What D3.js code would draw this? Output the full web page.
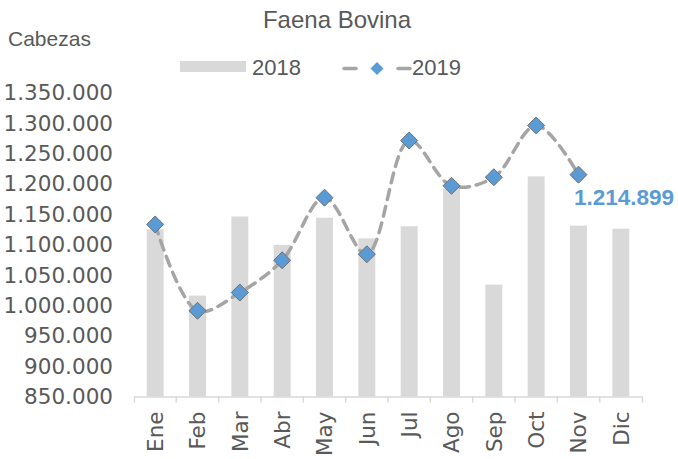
<!DOCTYPE html>
<html lang="es">
<head>
<meta charset="UTF-8">
<title>Faena Bovina</title>
<style>
body{margin:0;background:#fff}
svg{display:block}
</style>
</head>
<body>
<svg id="chart" width="678" height="459"></svg>
<script src="https://cdn.jsdelivr.net/npm/d3@7/dist/d3.min.js"></script>
<script>
var meses=['Ene','Feb','Mar','Abr','May','Jun','Jul','Ago','Sep','Oct','Nov','Dic']
var faena2018=[1125000,1016000,1146000,1099500,1144000,1110000,1130000,1192000,1034000,1212000,1131000,1126000]
var faena2019=[1133000,991000,1021000,1074000,1177000,1084000,1271000,1196500,1210700,1295700,1214899,null]
var yTicks=[850000,900000,950000,1000000,1050000,1100000,1150000,1200000,1250000,1300000,1350000]

var svg=d3.select('#chart')
var gris='#595959',barra='#d9d9d9',linea='#a5a5a5',azul='#5b9bd5'

var x=d3.scaleBand().domain(meses).range([134,642]).paddingInner(0.6).paddingOuter(0.3)
var y=d3.scaleLinear().domain([850000,1350000]).range([396.5,92.5])
var fmt=d3.formatLocale({decimal:',',thousands:'.',grouping:[3],currency:['$','']}).format(',d')

// barras 2018
svg.append('g').selectAll('rect').data(meses).join('rect')
  .attr('x',d=>x(d)).attr('width',x.bandwidth())
  .attr('y',(d,i)=>y(faena2018[i])).attr('height',(d,i)=>y(850000)-y(faena2018[i]))
  .attr('fill',barra)

// eje y (solo etiquetas)
svg.append('g').selectAll('text').data(yTicks).join('text')
  .attr('x',113).attr('y',d=>y(d)).attr('dy','0.36em')
  .attr('text-anchor','end').attr('fill',gris)
  .style('font-family','DejaVu Sans').style('font-size','21.5px')
  .text(d=>fmt(d))

// eje x
var xAxis=svg.append('g').attr('transform','translate(0,'+y(850000)+')')
  .call(d3.axisBottom(x).tickSizeInner(0).tickSizeOuter(6))
xAxis.select('.domain').attr('stroke',barra).attr('stroke-width',1.5)
xAxis.selectAll('.tick line').remove()
xAxis.selectAll('.tick text')
  .attr('transform','rotate(-90)').attr('x',-15).attr('y',0).attr('dy','0.36em')
  .attr('text-anchor','end').attr('fill',gris)
  .style('font-family','DejaVu Sans').style('font-size','21.5px')
var paso=x.step()
xAxis.append('g').selectAll('line').data(meses.slice(1)).join('line')
  .attr('x1',d=>x(d)-paso*0.3).attr('x2',d=>x(d)-paso*0.3)
  .attr('y1',0).attr('y2',6).attr('stroke',barra).attr('stroke-width',1.5)

// linea 2019
var pts=meses.map((m,i)=>({m:m,v:faena2019[i]})).filter(d=>d.v!=null)
var line=d3.line().x(d=>x(d.m)+x.bandwidth()/2).y(d=>y(d.v)).curve(d3.curveCatmullRom.alpha(0.5))
svg.append('path').datum(pts).attr('d',line)
  .attr('fill','none').attr('stroke',linea).attr('stroke-width',3.5)
  .attr('stroke-dasharray','10,7').attr('stroke-linecap','round')

var diamante=r=>'M0,'+(-r)+'L'+r+',0L0,'+r+'L'+(-r)+',0Z'
svg.append('g').selectAll('path').data(pts).join('path')
  .attr('transform',d=>'translate('+(x(d.m)+x.bandwidth()/2)+','+y(d.v)+')')
  .attr('d',diamante(8.5)).attr('fill',azul).attr('stroke','#6f6f6f').attr('stroke-width',1)

// etiqueta ultimo dato
var ult=pts[pts.length-1]
svg.append('text').attr('x',574).attr('y',y(ult.v)+30)
  .attr('fill',azul).style('font-family','Liberation Sans').style('font-weight','bold').style('font-size','22.5px')
  .text(fmt(ult.v))

// titulo y rotulo
svg.append('text').attr('x',337).attr('y',28).attr('text-anchor','middle').attr('fill',gris)
  .style('font-family','Liberation Sans').style('font-size','24px').text('Faena Bovina')
svg.append('text').attr('x',8).attr('y',46).attr('fill',gris)
  .style('font-family','Liberation Sans').style('font-size','21px').text('Cabezas')

// leyenda
var ley=svg.append('g').style('font-family','Liberation Sans').style('font-size','22px').attr('fill',gris)
ley.append('rect').attr('x',180).attr('y',61).attr('width',66).attr('height',11).attr('fill',barra)
ley.append('text').attr('x',252).attr('y',75).text('2018')
ley.append('line').attr('x1',344).attr('x2',356).attr('y1',68.5).attr('y2',68.5).attr('stroke',linea).attr('stroke-width',3.5).attr('stroke-linecap','round')
ley.append('line').attr('x1',398).attr('x2',410).attr('y1',68.5).attr('y2',68.5).attr('stroke',linea).attr('stroke-width',3.5).attr('stroke-linecap','round')
ley.append('path').attr('transform','translate(377,68.5)').attr('d',diamante(6.5)).attr('fill',azul)
ley.append('text').attr('x',412).attr('y',75).text('2019')
</script>
</body>
</html>
